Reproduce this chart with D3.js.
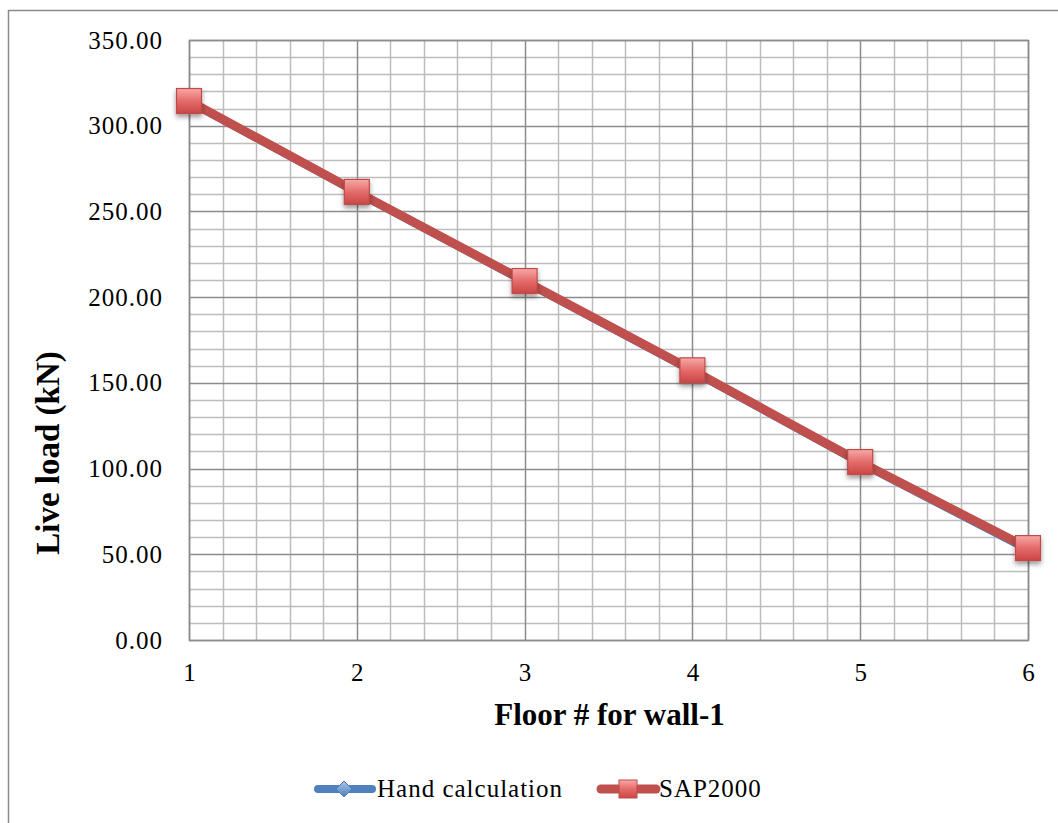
<!DOCTYPE html>
<html>
<head>
<meta charset="utf-8">
<script src="https://cdn.jsdelivr.net/npm/d3@7"></script>
<style>
  html, body { margin: 0; padding: 0; background: #fff; }
  svg { display: block; }
</style>
</head>
<body>
<svg id="chart" width="1058" height="823"></svg>
<script>
const floors = [1, 2, 3, 4, 5, 6];
const handCalc = [313.8, 260.8, 208.7, 156.5, 103.0, 52.3];
const sap2000 = [314.4, 261.4, 209.4, 157.3, 103.8, 53.6];
const yTicks = [0, 50, 100, 150, 200, 250, 300, 350];
const xTicks = [1, 2, 3, 4, 5, 6];
const seriesNames = ["Hand calculation", "SAP2000"];
const xTitle = "Floor # for wall-1";
const yTitle = "Live load (kN)";

const svg = d3.select("#chart");
const W = 1058, H = 823;
const plot = { left: 189, top: 40, right: 1028, bottom: 640 };

const x = d3.scaleLinear().domain([1, 6]).range([plot.left, plot.right]);
const y = d3.scaleLinear().domain([0, 350]).range([plot.bottom, plot.top]);

const defs = svg.append("defs");
const grad = defs.append("linearGradient").attr("id", "sqGrad")
  .attr("x1", 0).attr("y1", 0).attr("x2", 0).attr("y2", 1);
grad.append("stop").attr("offset", "0%").attr("stop-color", "#f7a9a8");
grad.append("stop").attr("offset", "50%").attr("stop-color", "#e46b6a");
grad.append("stop").attr("offset", "100%").attr("stop-color", "#c94644");
const gradB = defs.append("linearGradient").attr("id", "diaGrad")
  .attr("x1", 0).attr("y1", 0).attr("x2", 0).attr("y2", 1);
gradB.append("stop").attr("offset", "0%").attr("stop-color", "#a9c4ea");
gradB.append("stop").attr("offset", "100%").attr("stop-color", "#4f81bd");
const shadow = defs.append("filter").attr("id", "shadow")
  .attr("x", "-50%").attr("y", "-50%").attr("width", "200%").attr("height", "200%");
shadow.append("feDropShadow").attr("dx", 0).attr("dy", 3).attr("stdDeviation", 2.5)
  .attr("flood-color", "#000").attr("flood-opacity", 0.4);

// outer border
svg.append("rect").attr("x", 8.5).attr("y", 10.5).attr("width", W).attr("height", H)
  .attr("fill", "none").attr("stroke", "#8a8a8a").attr("stroke-width", 1.5);

// grid - minor
const g = svg.append("g");
const yMinor = d3.range(0, 351, 10).filter(v => v % 50 !== 0);
const xMinor = d3.range(1, 6.001, 0.2).filter(v => Math.abs(v - Math.round(v)) > 0.01);
g.selectAll(".hmin").data(yMinor).join("line")
  .attr("x1", plot.left).attr("x2", plot.right)
  .attr("y1", d => Math.round(y(d)) + 0.5).attr("y2", d => Math.round(y(d)) + 0.5)
  .attr("stroke", "#bdbdbd").attr("stroke-width", 1.5);
g.selectAll(".vmin").data(xMinor).join("line")
  .attr("y1", plot.top).attr("y2", plot.bottom)
  .attr("x1", d => Math.round(x(d)) + 0.5).attr("x2", d => Math.round(x(d)) + 0.5)
  .attr("stroke", "#bdbdbd").attr("stroke-width", 1.5);
// grid - major
g.selectAll(".hmaj").data(yTicks).join("line")
  .attr("x1", plot.left).attr("x2", plot.right)
  .attr("y1", d => Math.round(y(d)) + 0.5).attr("y2", d => Math.round(y(d)) + 0.5)
  .attr("stroke", "#8c8c8c").attr("stroke-width", 1.5);
g.selectAll(".vmaj").data(xTicks).join("line")
  .attr("y1", plot.top).attr("y2", plot.bottom)
  .attr("x1", d => Math.round(x(d)) + 0.5).attr("x2", d => Math.round(x(d)) + 0.5)
  .attr("stroke", "#8c8c8c").attr("stroke-width", 1.5);
// plot border
svg.append("rect").attr("x", plot.left + 0.5).attr("y", plot.top + 0.5)
  .attr("width", plot.right - plot.left).attr("height", plot.bottom - plot.top)
  .attr("fill", "none").attr("stroke", "#8c8c8c").attr("stroke-width", 1.5);

// axes labels via d3 axis
const yAxis = d3.axisLeft(y).tickValues(yTicks).tickFormat(d3.format(".2f")).tickSize(0).tickPadding(26);
const ya = svg.append("g").attr("transform", `translate(${plot.left},0)`).call(yAxis);
ya.select(".domain").remove();
ya.selectAll("text").attr("font-family", "'Liberation Serif', serif").attr("font-size", 25)
  .attr("letter-spacing", "1px").attr("fill", "#000");

const xAxis = d3.axisBottom(x).tickValues(xTicks).tickFormat(d3.format("d")).tickSize(0).tickPadding(23);
const xa = svg.append("g").attr("transform", `translate(0,${plot.bottom})`).call(xAxis);
xa.select(".domain").remove();
xa.selectAll("text").attr("font-family", "'Liberation Serif', serif").attr("font-size", 25).attr("fill", "#000");

// titles
svg.append("text").attr("x", (plot.left + plot.right) / 2 + 1).attr("y", 725)
  .attr("text-anchor", "middle").attr("font-family", "'Liberation Serif', serif")
  .attr("font-weight", "bold").attr("font-size", 31).text(xTitle);
svg.append("text").attr("transform", "translate(59,453) rotate(-90)")
  .attr("text-anchor", "middle").attr("font-family", "'Liberation Serif', serif")
  .attr("font-weight", "bold").attr("font-size", 33).text(yTitle);

// series
const line = d3.line().x((d, i) => x(floors[i])).y(d => y(d));
svg.append("path").datum(handCalc).attr("d", line).attr("fill", "none")
  .attr("stroke", "#4f81bd").attr("stroke-width", 7).attr("stroke-linejoin", "round");
const dia = 9;
svg.selectAll(".dia").data(handCalc).join("path")
  .attr("d", (d, i) => `M${x(floors[i])},${y(d) - dia}L${x(floors[i]) + dia},${y(d)}L${x(floors[i])},${y(d) + dia}L${x(floors[i]) - dia},${y(d)}Z`)
  .attr("fill", "url(#diaGrad)").attr("stroke", "#4a7ebb");

svg.append("path").datum(sap2000).attr("d", line).attr("fill", "none")
  .attr("stroke", "#c0504d").attr("stroke-width", 9).attr("stroke-linejoin", "round");
const sq = 25;
svg.selectAll(".sq").data(sap2000).join("rect")
  .attr("x", (d, i) => x(floors[i]) - sq / 2).attr("y", d => y(d) - sq / 2)
  .attr("width", sq).attr("height", sq)
  .attr("fill", "url(#sqGrad)").attr("stroke", "#be4b48").attr("stroke-width", 1.2)
  .attr("filter", "url(#shadow)");

// legend
const ly = 789;
const leg = svg.append("g");
leg.append("line").attr("x1", 318).attr("x2", 372).attr("y1", ly).attr("y2", ly)
  .attr("stroke", "#4f81bd").attr("stroke-width", 8).attr("stroke-linecap", "round");
leg.append("path").attr("d", `M344,${ly - 8}L352,${ly}L344,${ly + 8}L336,${ly}Z`)
  .attr("fill", "url(#diaGrad)").attr("stroke", "#4a7ebb");
leg.append("text").attr("x", 377).attr("y", ly + 8).attr("font-family", "'Liberation Serif', serif")
  .attr("font-size", 25).attr("letter-spacing", "1px").text(seriesNames[0]);
leg.append("line").attr("x1", 601).attr("x2", 656).attr("y1", ly).attr("y2", ly)
  .attr("stroke", "#c0504d").attr("stroke-width", 9).attr("stroke-linecap", "round");
leg.append("rect").attr("x", 619).attr("y", ly - 9).attr("width", 18).attr("height", 18)
  .attr("fill", "url(#sqGrad)").attr("stroke", "#be4b48");
leg.append("text").attr("x", 659).attr("y", ly + 8).attr("font-family", "'Liberation Serif', serif")
  .attr("font-size", 25).attr("letter-spacing", "1px").text(seriesNames[1]);
</script>
</body>
</html>
